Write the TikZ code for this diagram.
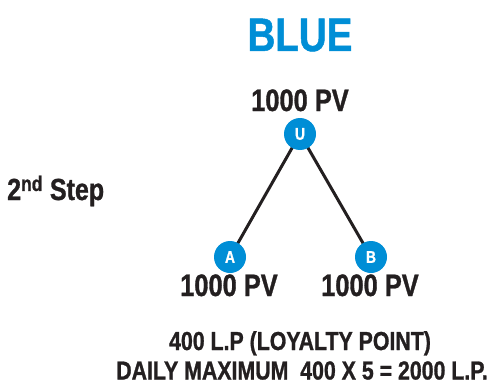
\documentclass[tikz,border=0pt]{standalone}
\usepackage{fontspec}
\setmainfont[FakeStretch=0.82,FakeBold=1]{Liberation Sans}
\definecolor{bblue}{RGB}{0,142,214}
\definecolor{ink}{RGB}{35,31,32}
\begin{document}
\begin{tikzpicture}[x=1pt,y=-1pt,
  lbl/.style={anchor=base,inner sep=0pt,text=ink,font=\bfseries\fontsize{31}{33}\selectfont},
  member/.style={circle,fill=bblue,minimum size=32pt,inner sep=0pt,text=white,font=\bfseries\fontsize{17}{19}\selectfont},
  link/.style={line width=3pt,draw=ink}]
\useasboundingbox (0,0) rectangle (497,385);
\node[anchor=base,inner sep=0pt,text=bblue,font=\bfseries\fontsize{47}{50}\selectfont] (title) at (300,51) {BLUE};
\node[lbl] (pvu) at (300,111) {1000 PV};
\draw[link] (300,134) coordinate (uc) -- (230,257) coordinate (ac);
\draw[link] (uc) -- (371,257) coordinate (bc);
\node[member] (u) at (uc) {U};
\node[member] (a) at (ac) {A};
\node[member] (b) at (bc) {B};
\node[lbl] (pva) at (229,296) {1000 PV};
\node[lbl] (pvb) at (370,296) {1000 PV};
\node[lbl,anchor=base west,font=\bfseries\fontsize{30.5}{32}\selectfont] (step) at (7,200) {2\textsuperscript{nd} Step};
\node[lbl,font=\bfseries\fontsize{26}{28}\selectfont] (l1) at (300,350) {400 L.P (LOYALTY POINT)};
\node[lbl,font=\bfseries\fontsize{26}{28}\selectfont] (l2) at (302,379.5) {DAILY MAXIMUM\ \ 400 X 5 = 2000 L.P.};
\end{tikzpicture}
\end{document}
